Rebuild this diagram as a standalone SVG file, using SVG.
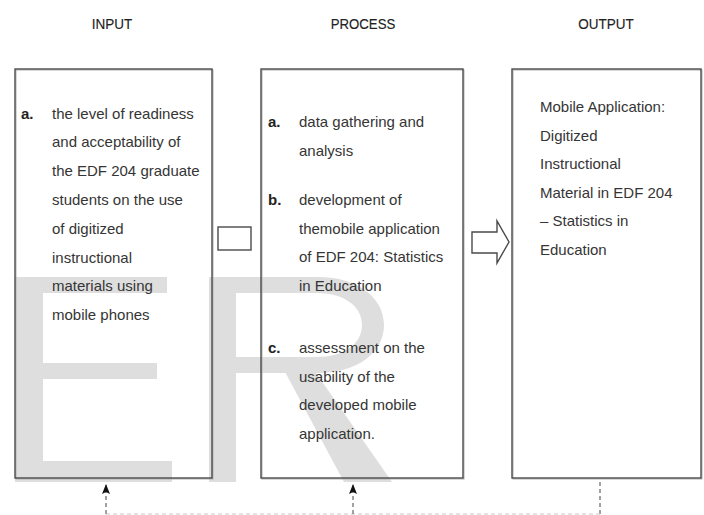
<svg xmlns="http://www.w3.org/2000/svg" width="704" height="515" viewBox="0 0 704 515">
  <style>
    .title { font-family: "Liberation Sans", Arial, sans-serif; font-size: 15px; fill: #222; stroke: #222; stroke-width: 0.15; text-anchor: middle; }
    .body { font-family: "Liberation Sans", Arial, sans-serif; font-size: 15px; fill: #353535; }
    .mark { font-weight: bold; fill: #222; }
    .box { fill: none; stroke: #4a4a4a; stroke-width: 1.4; }
    .shadow { fill: none; stroke: #b0b0b0; stroke-width: 1; }
    .wm { fill: #dedede; }
    .dash { fill: none; stroke: #444; stroke-width: 1; stroke-dasharray: 4 3; }
    .dash-light { fill: none; stroke: #c8c8c8; stroke-width: 1; stroke-dasharray: 4 3; }
  </style>
  <defs>
    <marker id="tip" viewBox="0 0 10 8" refX="9" refY="4" markerWidth="10" markerHeight="8" markerUnits="userSpaceOnUse" orient="auto">
      <path d="M0,0 L10,4 L0,8 L2,4 Z" fill="#111"/>
    </marker>
  </defs>

  <rect width="704" height="515" fill="#fff"/>

  <!-- light background lettering -->
  <g id="watermark">
    <path class="wm" d="M15,277 H167 V293 H43 V363 H157 V379 H43 V461 H172 V482 H15 Z"/>
    <path class="wm" fill-rule="evenodd" d="M209,277 H318 C358,277 384,298 384,325 C384,352 358,373 318,373 H236 V482 H209 Z M236,293 H316 C344,293 362,306 362,325 C362,344 344,357 316,357 H236 Z"/>
    <path class="wm" d="M284,370 L314,370 L392,482 L344,482 Z"/>
  </g>

  <!-- column headings -->
  <g id="headings">
    <text class="title" transform="translate(112 29) scale(0.9 1)">INPUT</text>
    <text class="title" transform="translate(363 29) scale(0.88 1)">PROCESS</text>
    <text class="title" transform="translate(606 29) scale(0.9 1)">OUTPUT</text>
  </g>

  <g id="input">
    <rect class="shadow" x="16" y="70" width="197" height="409"/>
    <rect class="box" x="15" y="69" width="197" height="409"/>
    <text class="body">
      <tspan class="mark" x="21" y="118.5">a.</tspan>
      <tspan x="52" y="118.5">the level of readiness</tspan>
      <tspan x="52" y="147.3">and acceptability of</tspan>
      <tspan x="52" y="176.1">the EDF 204 graduate</tspan>
      <tspan x="52" y="204.9">students on the use</tspan>
      <tspan x="52" y="233.7">of digitized</tspan>
      <tspan x="52" y="262.5">instructional</tspan>
      <tspan x="52" y="291.3">materials using</tspan>
      <tspan x="52" y="320.1">mobile phones</tspan>
    </text>
  </g>

  <g id="process">
    <rect class="shadow" x="262" y="70" width="202" height="409"/>
    <rect class="box" x="261" y="69" width="202" height="409"/>
    <text class="body">
      <tspan class="mark" x="268" y="127">a.</tspan>
      <tspan x="299" y="127">data gathering and</tspan>
      <tspan x="299" y="155.7">analysis</tspan>
      <tspan class="mark" x="268" y="205">b.</tspan>
      <tspan x="299" y="205">development of</tspan>
      <tspan x="299" y="233.7">themobile application</tspan>
      <tspan x="299" y="262.4">of EDF 204: Statistics</tspan>
      <tspan x="299" y="291.1">in Education</tspan>
      <tspan class="mark" x="268" y="353">c.</tspan>
      <tspan x="299" y="353">assessment on the</tspan>
      <tspan x="299" y="381.7">usability of the</tspan>
      <tspan x="299" y="410.4">developed mobile</tspan>
      <tspan x="299" y="439.1">application.</tspan>
    </text>
  </g>

  <g id="output">
    <rect class="shadow" x="513" y="70" width="189" height="409"/>
    <rect class="box" x="512" y="69" width="189" height="409"/>
    <text class="body">
      <tspan x="540" y="112">Mobile Application:</tspan>
      <tspan x="540" y="140.6">Digitized</tspan>
      <tspan x="540" y="169.2">Instructional</tspan>
      <tspan x="540" y="197.8">Material in EDF 204</tspan>
      <tspan x="540" y="226.4">– Statistics in</tspan>
      <tspan x="540" y="255">Education</tspan>
    </text>
  </g>

  <g id="connectors">
    <!-- small box between input and process -->
    <rect x="218" y="227" width="33" height="23" fill="#fff" stroke="#4a4a4a" stroke-width="1.4"/>
    <!-- block arrow from process to output -->
    <path d="M472,232 H497 V221 L509,242 L497,263 V253 H472 Z" fill="#fff" stroke="#4a4a4a" stroke-width="1.4" stroke-linejoin="miter"/>
    <!-- feedback loop along the bottom -->
    <path class="dash" d="M600,482 V514"/>
    <path class="dash-light" d="M106,514 H600"/>
    <path class="dash" d="M106,514 V485" marker-end="url(#tip)"/>
    <path class="dash" d="M353,514 V485" marker-end="url(#tip)"/>
  </g>
</svg>
